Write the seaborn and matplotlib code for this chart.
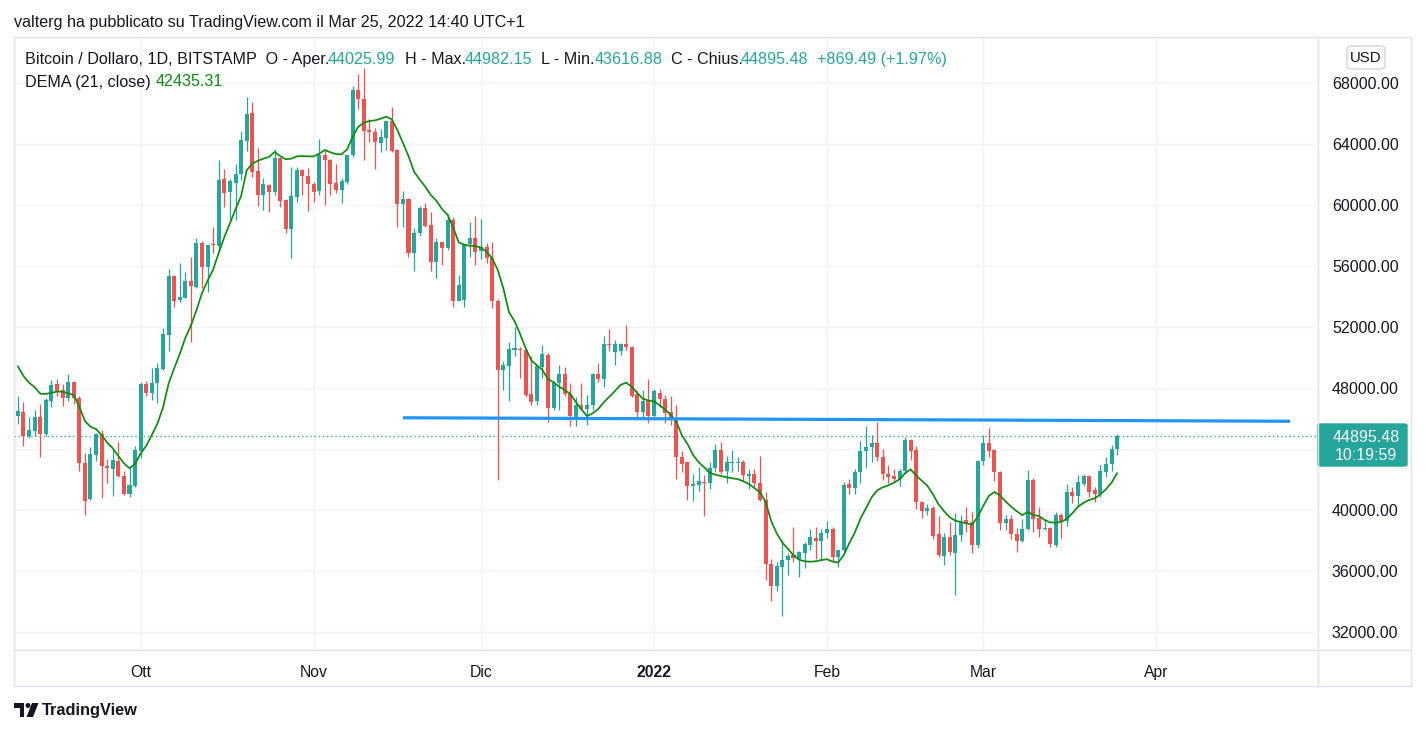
#!/usr/bin/env python3
"""BTC/USD daily candles with DEMA(21) - TradingView snapshot recreation."""
import numpy as np
import pandas as pd
import matplotlib
matplotlib.use('Agg')
import matplotlib.pyplot as plt
from matplotlib.patches import Rectangle, FancyBboxPatch, Polygon, Ellipse
from matplotlib.lines import Line2D
import seaborn as sns

# ---- data (BITSTAMP BTC/USD, 1D) ----
START = '2021-09-09'

OPEN = [
    # Sep
    46170, 46470, 44900, 45220, 46100, 45000, 47200, 48290, 47900, 47370, 48440,
    47370, 43100, 40730, 43650, 45000, 42920, 42700, 43230, 42270, 41060, 41610,
    # Oct
    43910, 48290, 47700, 48330, 49270, 51500, 55360, 53800, 53940, 55040, 54660,
    57510, 55970, 57420, 57350, 61730, 60850, 61480, 62030, 64240, 66050, 62250,
    60680, 61330, 60900, 63120, 60350, 58470, 60570, 62320, 61920,
    # Nov
    61380, 60960, 63300, 62970, 61440, 61000, 61550, 63300, 67560, 66950, 64930,
    64820, 64100, 64410, 65530, 63630, 60090, 60410, 56890, 58160, 59840, 58710,
    56260, 57570, 57180, 59040, 53750, 53790, 57440, 57840,
    # Dec
    57020, 57250, 56570, 53700, 49170, 49460, 50530, 50600, 50530, 47610, 47170,
    49390, 50170, 46720, 48380, 48930, 47650, 46120, 46890, 46670, 46890, 48930,
    48600, 50900, 50350, 50450, 50900, 50730, 47610, 46450, 47150,
    # Jan
    46180, 47720, 47280, 46450, 45890, 43480, 43150, 41580, 41670, 41840, 41820,
    42760, 43960, 42600, 43100, 43100, 43150, 42230, 42400, 41820, 40690, 36490,
    35050, 36260, 36760, 37090, 36800, 37200, 37700, 38190, 37960,
    # Feb
    38500, 38780, 36910, 37370, 41700, 41480, 42480, 43890, 44130, 44440, 43500,
    42400, 42230, 42040, 42560, 44610, 43960, 40570, 39980, 40170, 38450, 37030,
    38280, 37190, 38410, 39350, 39220, 37710,
    # Mar
    43240, 44440, 43960, 42540, 39200, 39430, 38420, 38000, 38750, 41960, 39520,
    38750, 38850, 37720, 39700, 39330, 41180, 40960, 41750, 42230, 41340, 41060,
    42500, 43040, 44025.99,
]

HIGH = [
    47500, 47130, 46100, 46580, 46980, 47350, 48550, 48620, 48290, 48950, 48500,
    47480, 43760, 44180, 45050, 45270, 43360, 44020, 44460, 42600, 42820, 44240,
    48400, 48500, 49340, 49670, 51940, 55800, 55400, 56240, 55650, 56630, 57840,
    57680, 57400, 58600, 62970, 62380, 61730, 62700, 64870, 67100, 66780, 63740,
    61800, 61400, 63670, 63200, 60400, 62530, 62530, 62380, 62470,
    61550, 64350, 63630, 63050, 62700, 61770, 63300, 67820, 68610, 69000, 65630,
    65040, 64980, 65530, 66430, 63700, 60940, 60500, 58490, 59960, 60130, 59580,
    57840, 57600, 59410, 59250, 55430, 57440, 58890, 59320,
    59080, 57550, 57600, 53880, 49760, 51060, 52040, 50700, 50600, 50130, 49460,
    50870, 50300, 48500, 49520, 49400, 48350, 47400, 48350, 47540, 49000, 49630,
    51420, 51870, 51200, 51000, 52150, 50800, 47920, 47920, 48600,
    47930, 47980, 47590, 47500, 46930, 43890, 43200, 42400, 42830, 42320, 43160,
    44360, 44470, 43530, 43930, 43500, 43300, 42700, 42700, 43580, 41170, 36820,
    36600, 38030, 37200, 38920, 37300, 37950, 38780, 38890, 38800,
    39270, 38900, 37400, 41860, 42030, 42740, 44550, 45510, 44920, 45820, 44000,
    43000, 42700, 42700, 44800, 44700, 44220, 40600, 40400, 40300, 39600, 38520,
    39250, 39820, 39700, 40200, 39900, 43300,
    44970, 45400, 44000, 42600, 39700, 39700, 38810, 39400, 42620, 42100, 40200,
    39400, 38900, 39900, 39850, 41700, 41500, 42300, 42400, 42300, 41500, 43000,
    43500, 44300, 44982.15,
]

LOW = [
    45660, 44240, 44750, 44900, 43520, 44850, 46800, 47500, 46870, 47150, 46980,
    42600, 39680, 40670, 43250, 40800, 41790, 40950, 42200, 41000, 40850, 41520,
    43400, 47500, 47240, 47020, 49200, 50470, 53360, 53680, 53900, 51060, 54560,
    54560, 54300, 56900, 56960, 59870, 59040, 59040, 61660, 63560, 61850, 59960,
    59700, 59560, 60680, 59920, 58170, 56520, 60240, 60680, 59600,
    60240, 60680, 60000, 60700, 60790, 60170, 61400, 63190, 66300, 62970, 64170,
    62360, 63520, 63630, 63480, 58600, 58600, 56590, 55710, 58000, 58600, 55710,
    55220, 56110, 57100, 53350, 53700, 53350, 56630, 56110,
    56500, 56200, 53250, 42000, 47860, 47190, 50130, 48690, 47400, 46890, 46890,
    48690, 45820, 46600, 46570, 47500, 45530, 45530, 46570, 45610, 46600, 48400,
    48100, 50450, 49520, 50200, 50500, 47400, 46120, 46020, 45700,
    46100, 46780, 45750, 45600, 42050, 42500, 40650, 40600, 41280, 39600, 41390,
    42500, 42400, 41820, 42540, 42600, 41900, 41400, 41500, 40600, 35440, 34080,
    34680, 33050, 35780, 36600, 35600, 36200, 37370, 36800, 36700,
    38200, 36700, 36300, 37200, 41050, 41100, 41780, 42760, 43170, 43240, 42000,
    41800, 41900, 41600, 42400, 43300, 40110, 39520, 39700, 38100, 36930, 36420,
    37100, 34420, 38000, 38600, 37200, 37500,
    42960, 43500, 41900, 38700, 38700, 38100, 37240, 37900, 38700, 38600, 38250,
    38700, 37600, 37600, 38200, 39000, 40500, 40200, 41600, 40900, 40550, 40900,
    42200, 42600, 43616.88,
]

CLOSE = [
    46540, 44900, 45270, 46100, 45000, 47240, 48200, 47810, 47370, 48400, 47350,
    43100, 40600, 43700, 45000, 42920, 42790, 43300, 42270, 41060, 41680, 43950,
    48290, 47700, 48360, 49340, 51560, 55360, 53750, 53970, 55040, 54730, 57510,
    55970, 57400, 57370, 61660, 60830, 61600, 62030, 64280, 65980, 62200, 60680,
    61380, 60900, 63120, 60300, 58470, 60610, 62320, 61920, 61380,
    60900, 63300, 62970, 61400, 61000, 61610, 63300, 67560, 66950, 64890, 64820,
    64170, 64460, 65530, 63580, 60090, 60410, 56890, 58160, 59840, 58660, 56300,
    57570, 57180, 59040, 53750, 54770, 57440, 57840, 56960,
    57250, 56570, 53750, 49170, 49500, 50550, 50640, 50490, 47540, 47110, 49460,
    50220, 46720, 48380, 48930, 47610, 46180, 46890, 46670, 46930, 48930, 48600,
    50900, 50830, 50900, 50900, 50730, 47500, 46450, 47150, 46180,
    47800, 47330, 46410, 45890, 43480, 43060, 41580, 41740, 41930, 41780, 42760,
    43960, 42540, 43160, 43160, 43160, 42300, 42400, 41820, 40690, 36490, 35050,
    36380, 36760, 37030, 36870, 37260, 37810, 38250, 37960, 38500,
    38780, 36910, 37370, 41640, 41480, 42480, 43890, 44130, 44440, 43500, 42400,
    42200, 42040, 42560, 44610, 43910, 40570, 39980, 40170, 38340, 37070, 38280,
    37250, 38410, 39250, 39130, 37710, 43240,
    44440, 43890, 42500, 39200, 39430, 38420, 38000, 38750, 41960, 39450, 38750,
    38850, 37780, 39700, 39330, 41180, 40960, 41830, 42230, 41220, 41060, 42550,
    43060, 44025.99, 44895.48,
]

DEMA = [
    49440, 48810, 48370, 48070, 47650, 47630, 47710, 47780, 47780, 47670, 47560,
    46800, 45860, 45480, 45330, 44940, 44430, 44070, 43560, 43080, 42760, 43040,
    43740, 44220, 44940, 45680, 46730, 48300, 49300, 50250, 51300, 52110, 53120,
    54250, 55060, 55800, 56890, 57920, 58820, 59740, 60610, 62290, 62730, 62920,
    63060, 63170, 63500, 63230, 63020, 63060, 63210, 63230, 63210,
    63210, 63380, 63630, 63480, 63360, 63340, 63670, 64500, 65150, 65420, 65530,
    65570, 65680, 65810, 65640, 64940, 64100, 63230, 62200, 61700, 61220, 60680,
    60300, 59760, 59380, 58560, 57570, 57420, 57350, 57330,
    57220, 56960, 56520, 55760, 54560, 53000, 52410, 51560, 50620, 49840, 49510,
    49200, 48610, 48390, 48110, 47890, 47630, 47100, 46620, 46180, 46360, 46640,
    47080, 47450, 47820, 48220, 48370, 48110, 47690, 47320, 47200,
    47150, 46890, 46600, 46270, 45810, 44920, 44350, 43630, 43150, 42820, 42450,
    42340, 42250, 42170, 42100, 42050, 41900, 41730, 41460, 41180, 40550, 39300,
    38490, 37880, 37480, 37050, 36760, 36660, 36630, 36660, 36740,
    36790, 36640, 36580, 37050, 37850, 38550, 39450, 40150, 40850, 41310, 41510,
    41640, 41810, 42030, 42430, 42690, 42270, 41940, 41610, 41050, 40390, 39940,
    39540, 39320, 39230, 39150, 39040, 39580,
    40280, 40940, 41200, 40980, 40590, 40240, 39940, 39690, 39890, 39690, 39630,
    39370, 39210, 39190, 39250, 39450, 39820, 40240, 40500, 40680, 40790, 41050,
    41380, 41810, 42435.31,
]

TREND_DATES = ['2021-11-17', '2022-04-25']
TREND_PRICES = [46070, 45840]

MONTH_TICKS = ['2021-10-01', '2021-11-01', '2021-12-01', '2022-01-01',
               '2022-02-01', '2022-03-01', '2022-04-01']
MONTH_LABELS = ['Ott', 'Nov', 'Dic', '2022', 'Feb', 'Mar', 'Apr']
PRICE_TICKS = [32000, 36000, 40000, 44000, 48000, 52000, 56000, 60000, 64000, 68000]
PRICE_LABELS = ['32000.00', '36000.00', '40000.00', '', '48000.00', '52000.00',
                '56000.00', '60000.00', '64000.00', '68000.00']

UP, DOWN = '#26a69a', '#ef5350'
DEMA_COLOR = '#0f8a0f'
TEXT = '#131722'
BORDER = '#e0e3eb'
GRID = '#f0f3fa'
FS = 11.6

sns.set_theme(style='white')
plt.rcParams['font.family'] = ['Liberation Sans', 'DejaVu Sans']

W, H = 1426, 733
fig = plt.figure(figsize=(W / 100, H / 100), dpi=100)
fig.patch.set_facecolor('white')


def fx(x):
    return x / W


def fy(y):
    return 1 - y / H


ax = fig.add_axes([fx(14), fy(650), fx(1318) - fx(14), fy(37) - fy(650)])
ax.set_facecolor('white')

df = pd.DataFrame({'date': pd.date_range(START, periods=len(CLOSE), freq='D'),
                   'open': OPEN, 'high': HIGH, 'low': LOW, 'close': CLOSE,
                   'dema': DEMA})
up = df['close'] >= df['open']
colors = np.where(up, UP, DOWN)

# wicks
ax.vlines(df['date'], df['low'], df['high'], colors=colors, linewidth=0.9, zorder=3)
# bodies
body_bottom = df[['open', 'close']].min(axis=1)
body_height = (df['close'] - df['open']).abs().clip(lower=70)
ax.bar(df['date'], body_height, bottom=body_bottom, width=0.72,
       color=colors, linewidth=0, zorder=4)

# DEMA(21)
sns.lineplot(data=df, x='date', y='dema', ax=ax, color=DEMA_COLOR,
             linewidth=1.25, zorder=5)

# trend line and last-price line
ax.plot(pd.to_datetime(TREND_DATES), TREND_PRICES, color='#2196f3',
        linewidth=2.3, solid_capstyle='butt', zorder=6)
ax.axhline(CLOSE[-1], color=UP, linestyle=(0, (1, 2)), linewidth=1, zorder=2)

x0 = df['date'].iloc[0]
ax.set_xlim(x0 - pd.Timedelta(days=0.7), x0 + pd.Timedelta(days=233))
ax.set_ylim(30841, 71036)

ax.set_xticks(pd.to_datetime(MONTH_TICKS))
ax.set_xticklabels(MONTH_LABELS)
ax.get_xticklabels()[3].set_fontweight('bold')
ax.set_yticks(PRICE_TICKS)
ax.set_yticklabels(PRICE_LABELS)
ax.yaxis.tick_right()
ax.tick_params(axis='x', length=0, pad=11, labelsize=11.3, colors=TEXT)
ax.tick_params(axis='y', length=0, pad=10, labelsize=11.5, colors=TEXT)
ax.grid(True, color=GRID, linewidth=1)
ax.set_axisbelow(True)
ax.set_xlabel('')
ax.set_ylabel('')
for s in ax.spines.values():
    s.set_visible(False)

# frame around chart, price scale and time scale
fig.add_artist(Rectangle((fx(14), fy(686)), fx(1411) - fx(14), fy(37) - fy(686),
                         transform=fig.transFigure, fill=False,
                         edgecolor=BORDER, linewidth=1))
fig.add_artist(Line2D([fx(14), fx(1411)], [fy(650), fy(650)],
                      transform=fig.transFigure, color=BORDER, linewidth=1))
fig.add_artist(Line2D([fx(1318), fx(1318)], [fy(37), fy(686)],
                      transform=fig.transFigure, color=BORDER, linewidth=1))

# USD badge
fig.add_artist(FancyBboxPatch((fx(1347), fy(69)), fx(1385) - fx(1347), fy(46) - fy(69),
                              boxstyle='round,pad=0,rounding_size=0.004',
                              transform=fig.transFigure, facecolor='white',
                              edgecolor='#d1d4dc', linewidth=1))
fig.text(fx(1366), fy(57.5), 'USD', ha='center', va='center', fontsize=10.8, color=TEXT)

# last price badge
fig.add_artist(FancyBboxPatch((fx(1318), fy(466)), fx(1407) - fx(1318), fy(424) - fy(466),
                              boxstyle='round,pad=0,rounding_size=0.002',
                              transform=fig.transFigure, facecolor=UP, edgecolor=UP))
fig.text(fx(1366), fy(438), f'{CLOSE[-1]:.2f}', ha='center', va='center',
         fontsize=11.5, color='white')
fig.text(fx(1366), fy(455), '10:19:59', ha='center', va='center',
         fontsize=11.5, color='white')

# headers
fig.text(fx(14), fy(22), 'valterg ha pubblicato su TradingView.com il Mar 25, 2022 14:40 UTC+1',
         ha='left', va='center', fontsize=FS, color=TEXT)

change = CLOSE[-1] - CLOSE[-2]
pct = change / CLOSE[-2] * 100
legend_pieces = [
    (25, 'Bitcoin / Dollaro, 1D, BITSTAMP  O - Aper.', TEXT),
    (328, f'{OPEN[-1]:.2f}', UP),
    (405, 'H - Max.', TEXT),
    (465, f'{HIGH[-1]:.2f}', UP),
    (541, 'L - Min.', TEXT),
    (595, f'{LOW[-1]:.2f}', UP),
    (671, 'C - Chius.', TEXT),
    (741, f'{CLOSE[-1]:.2f}', UP),
    (817, f'{change:+.2f} ({pct:+.2f}%)', UP),
]
for x, s, c in legend_pieces:
    fig.text(fx(x), fy(59.5), s, ha='left', va='center', fontsize=FS, color=c)
fig.text(fx(25), fy(82), 'DEMA (21, close)', ha='left', va='center', fontsize=FS, color=TEXT)
fig.text(fx(156), fy(82), f'{DEMA[-1]:.2f}', ha='left', va='center',
         fontsize=FS, color=DEMA_COLOR)

# TradingView logo
logo = dict(transform=fig.transFigure, facecolor=TEXT, edgecolor='none')
fig.add_artist(Polygon([(fx(14), fy(703)), (fx(24), fy(703)), (fx(24), fy(717)),
                        (fx(19.5), fy(717)), (fx(19.5), fy(708)), (fx(14), fy(708))], **logo))
fig.add_artist(Ellipse((fx(28), fy(705.5)), 5 / W, 5 / H, **logo))
fig.add_artist(Polygon([(fx(32), fy(703)), (fx(38.5), fy(703)), (fx(33), fy(717)),
                        (fx(26.5), fy(717))], **logo))
fig.text(fx(42), fy(710), 'TradingView', ha='left', va='center', fontsize=11.8,
         fontweight='bold', color=TEXT)

fig.savefig('out.png', dpi=100)
plt.close(fig)
